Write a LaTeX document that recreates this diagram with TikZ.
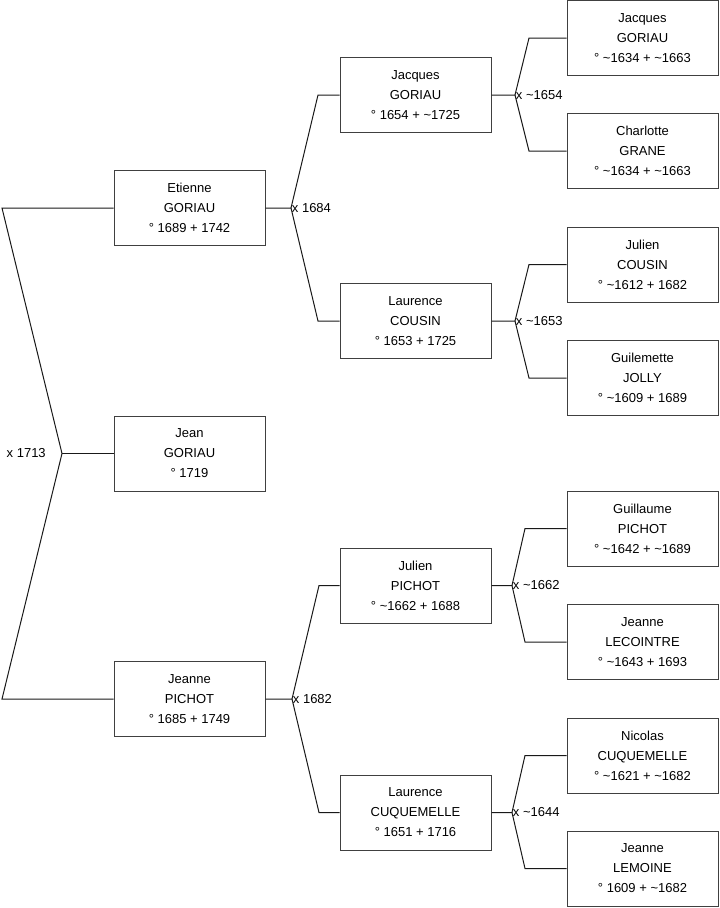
\documentclass[tikz,border=0pt]{standalone}
\usepackage{fontspec}
\setmainfont{Liberation Sans}
\newcommand\tld{\textasciitilde}
\begin{document}
\begin{tikzpicture}[x=0.75pt,y=-0.75pt,
  person/.style={draw=black!75, line width=0.75pt, rectangle, minimum width=113.25pt, minimum height=56.25pt, inner sep=0pt, align=center, font=\fontsize{9.75}{15}\selectfont},
  link/.style={draw=black!90, line width=0.75pt},
  mlabel/.style={anchor=west, inner sep=0.5pt, font=\fontsize{9.75}{11}\selectfont}]
\useasboundingbox (0,0) rectangle (719,908);
% generation 1
\node[person] (e) at (189.5,208) {Etienne\\GORIAU\\° 1689 + 1742};
\node[person] (j) at (189.5,453.5) {Jean\\GORIAU\\° 1719};
\node[person] (p) at (189.5,699) {Jeanne\\PICHOT\\° 1685 + 1749};
% generation 2
\node[person] (jg) at (415.5,95) {Jacques\\GORIAU\\° 1654 + \tld1725};
\node[person] (lc) at (415.5,321) {Laurence\\COUSIN\\° 1653 + 1725};
\node[person] (jp) at (415.5,585.5) {Julien\\PICHOT\\° \tld1662 + 1688};
\node[person] (lq) at (415.5,812.5) {Laurence\\CUQUEMELLE\\° 1651 + 1716};
% generation 3
\node[person] (a1) at (642.5,38) {Jacques\\GORIAU\\° \tld1634 + \tld1663};
\node[person] (a2) at (642.5,151) {Charlotte\\GRANE\\° \tld1634 + \tld1663};
\node[person] (a3) at (642.5,264.5) {Julien\\COUSIN\\° \tld1612 + 1682};
\node[person] (a4) at (642.5,378) {Guilemette\\JOLLY\\° \tld1609 + 1689};
\node[person] (a5) at (642.5,528.5) {Guillaume\\PICHOT\\° \tld1642 + \tld1689};
\node[person] (a6) at (642.5,642) {Jeanne\\LECOINTRE\\° \tld1643 + 1693};
\node[person] (a7) at (642.5,755.5) {Nicolas\\CUQUEMELLE\\° \tld1621 + \tld1682};
\node[person] (a8) at (642.5,868.5) {Jeanne\\LEMOINE\\° 1609 + \tld1682};
% root couple
\coordinate (r1) at (2,208);
\coordinate (r2) at (2,699);
\coordinate (rv) at (62,453.5);
\draw[link] (e.west) -- (r1) -- (rv) -- (r2) -- (p.west);
\draw[link] (rv) -- (j.west);
\node[anchor=east, inner sep=0pt, font=\fontsize{9.75}{11}\selectfont] (m0) at (46,453.5) {x 1713};
% Etienne's parents
\coordinate (v1) at (291,208);
\coordinate (u1) at (318,95);
\coordinate (d1) at (318,321);
\draw[link] (e.east) -- (v1) -- (u1) -- (jg.west);
\draw[link] (v1) -- (d1) -- (lc.west);
\node[mlabel] (m1) at (v1) {x 1684};
% Jeanne's parents
\coordinate (v2) at (292,699);
\coordinate (u2) at (319,585.5);
\coordinate (d2) at (319,812.5);
\draw[link] (p.east) -- (v2) -- (u2) -- (jp.west);
\draw[link] (v2) -- (d2) -- (lq.west);
\node[mlabel] (m2) at (v2) {x 1682};
% Jacques' parents
\coordinate (v3) at (515,95);
\coordinate (u3) at (529,38);
\coordinate (d3) at (529,151);
\draw[link] (jg.east) -- (v3) -- (u3) -- (a1.west);
\draw[link] (v3) -- (d3) -- (a2.west);
\node[mlabel] (m3) at (v3) {x \tld1654};
% Laurence Cousin's parents
\coordinate (v4) at (515,321);
\coordinate (u4) at (529,264.5);
\coordinate (d4) at (529,378);
\draw[link] (lc.east) -- (v4) -- (u4) -- (a3.west);
\draw[link] (v4) -- (d4) -- (a4.west);
\node[mlabel] (m4) at (v4) {x \tld1653};
% Julien Pichot's parents
\coordinate (v5) at (512,585.5);
\coordinate (u5) at (525,528.5);
\coordinate (d5) at (525,642);
\draw[link] (jp.east) -- (v5) -- (u5) -- (a5.west);
\draw[link] (v5) -- (d5) -- (a6.west);
\node[mlabel] (m5) at (v5) {x \tld1662};
% Laurence Cuquemelle's parents
\coordinate (v6) at (512,812.5);
\coordinate (u6) at (525,755.5);
\coordinate (d6) at (525,868.5);
\draw[link] (lq.east) -- (v6) -- (u6) -- (a7.west);
\draw[link] (v6) -- (d6) -- (a8.west);
\node[mlabel] (m6) at (v6) {x \tld1644};
\end{tikzpicture}
\end{document}
